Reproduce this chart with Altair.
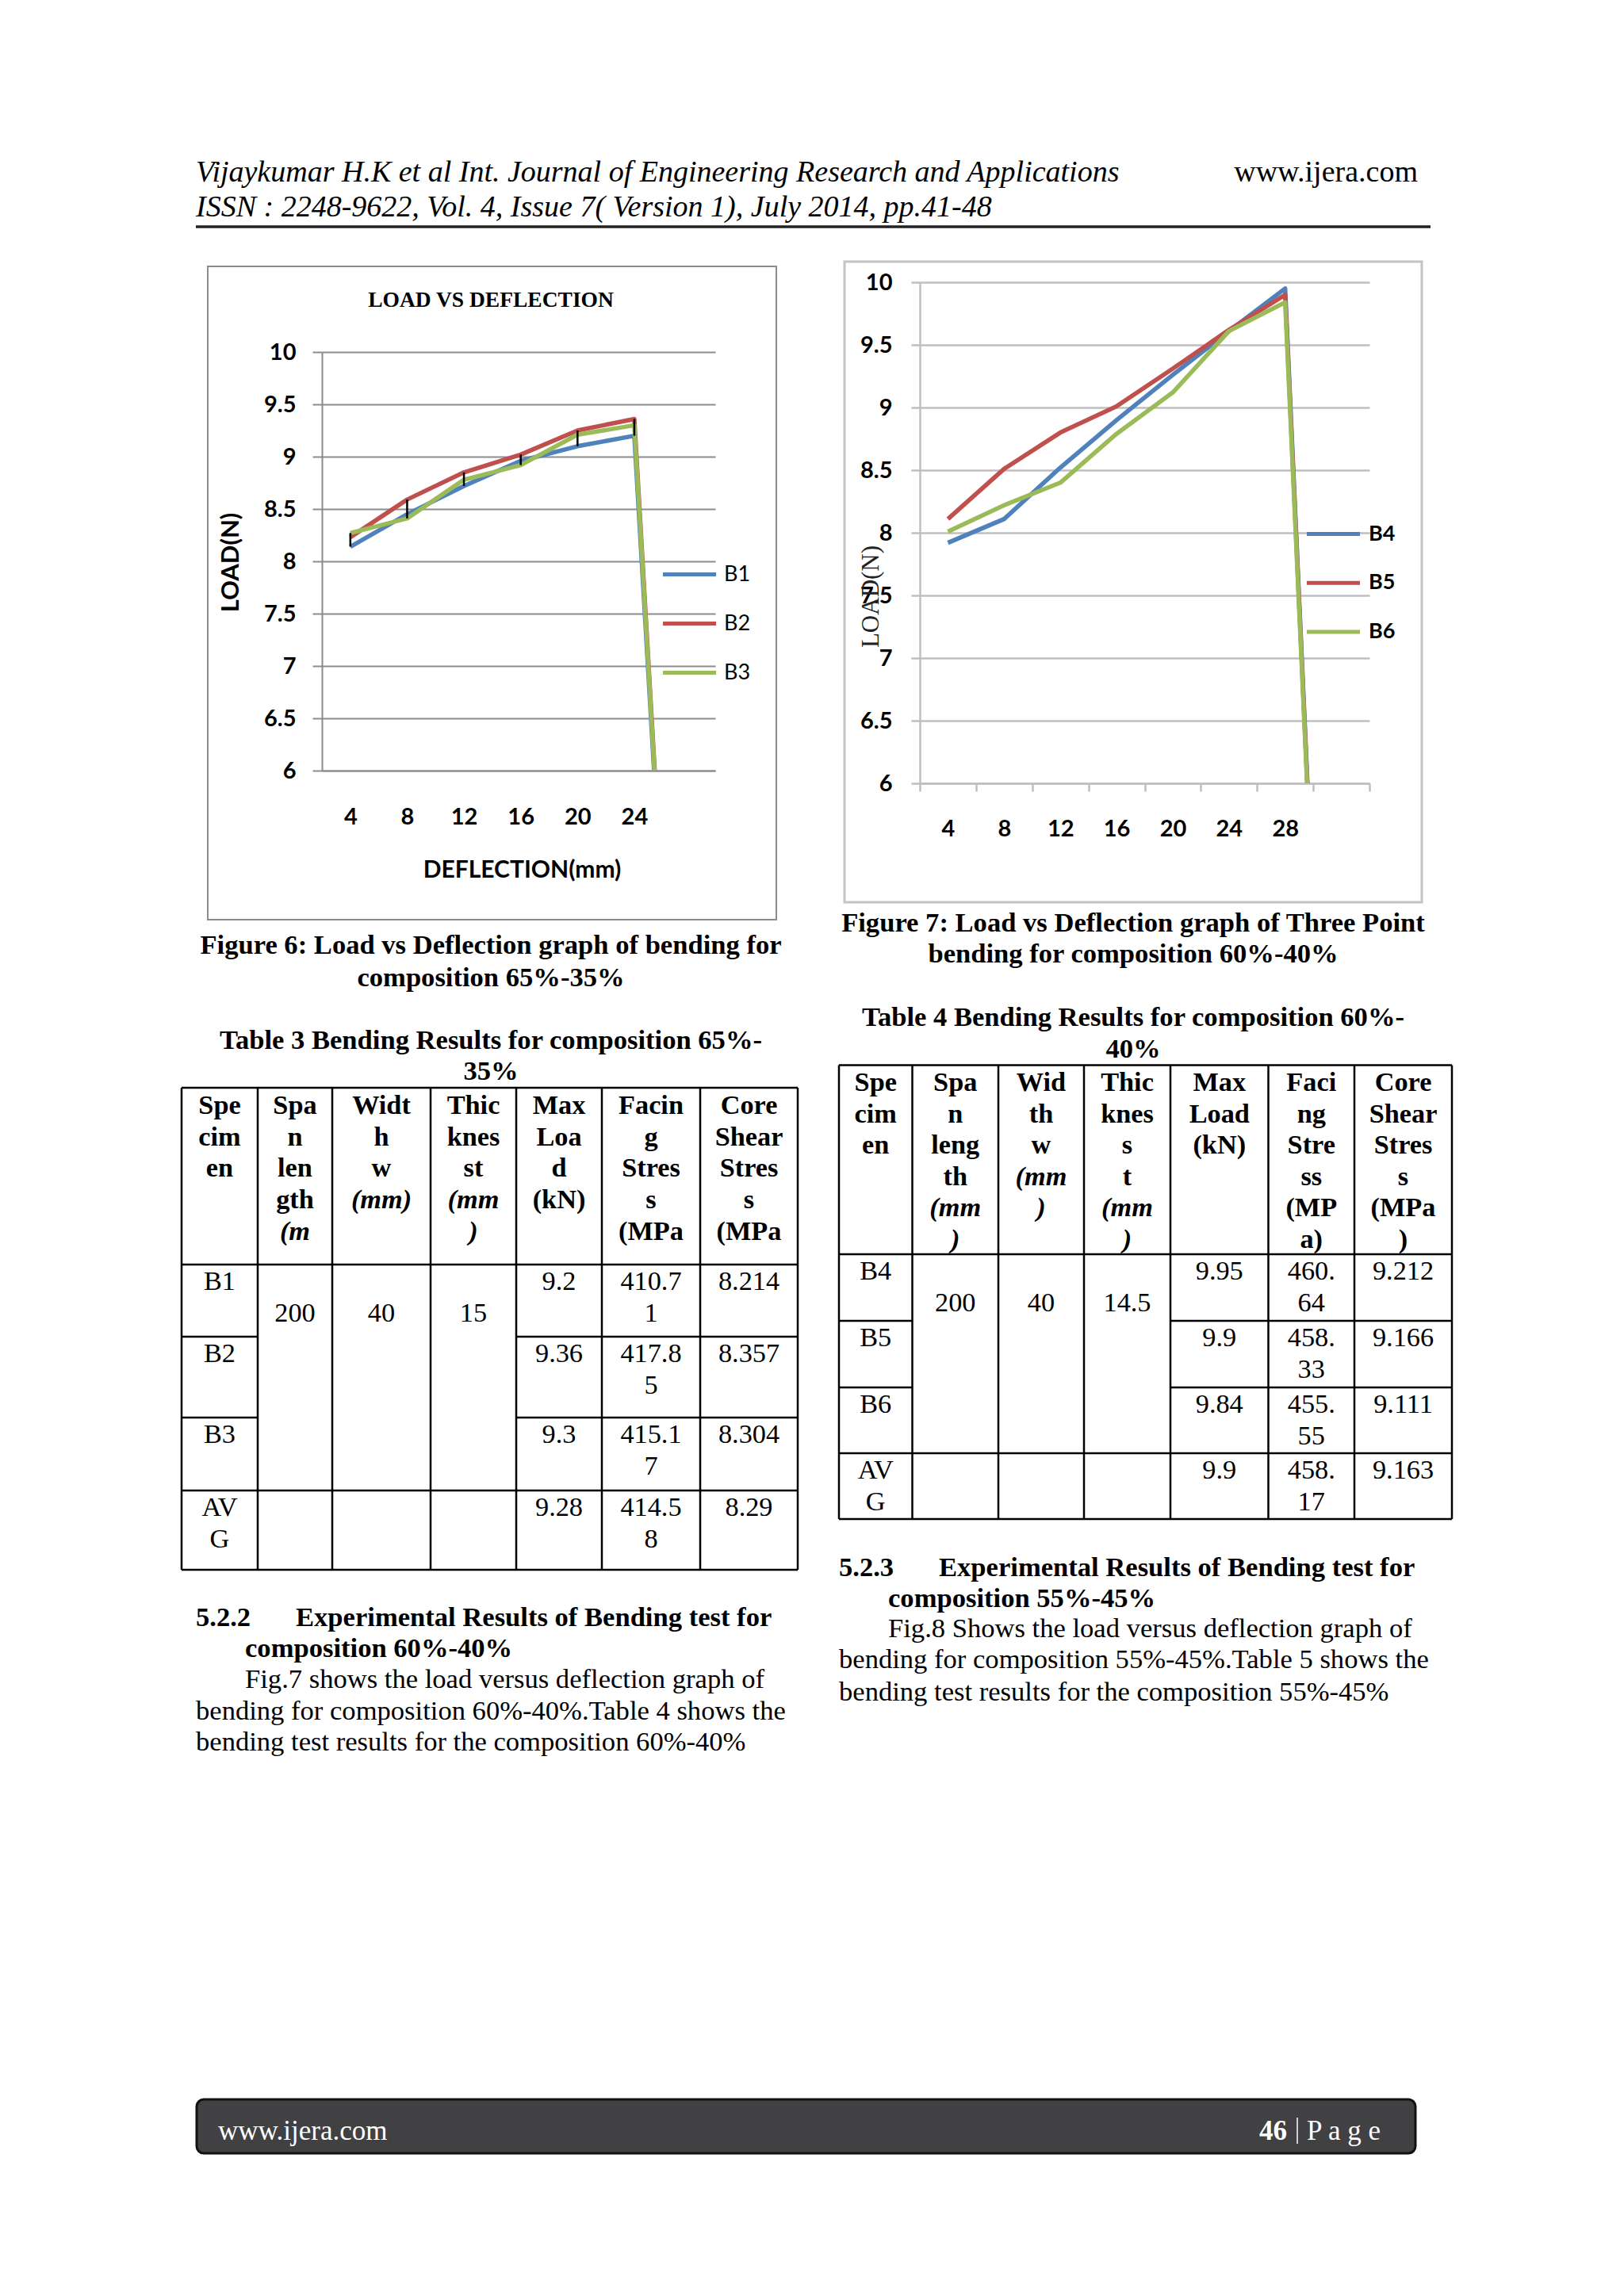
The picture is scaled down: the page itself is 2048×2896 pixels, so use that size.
import altair as alt
import pandas as pd

O = 8  # page margin of the html body

# ---------------- chart data ----------------
deflection_fig6 = [4, 8, 12, 16, 20, 24, 28]
load_b1 = [8.14, 8.45, 8.72, 8.96, 9.10, 9.20, 0]
load_b2 = [8.23, 8.59, 8.85, 9.02, 9.25, 9.36, 0]
load_b3 = [8.27, 8.41, 8.78, 8.92, 9.21, 9.30, 0]
specimens_fig6 = ["B1", "B2", "B3"]

deflection_fig7 = [4, 8, 12, 16, 20, 24, 28, 32]
load_b4 = [7.92, 8.11, 8.52, 8.90, 9.26, 9.61, 9.95, 0]
load_b5 = [8.11, 8.51, 8.80, 9.01, 9.31, 9.62, 9.90, 0]
load_b6 = [8.01, 8.22, 8.40, 8.79, 9.12, 9.61, 9.84, 0]
specimens_fig7 = ["B4", "B5", "B6"]

x_labels_fig6 = [4, 8, 12, 16, 20, 24]
x_ticks_fig7 = list(range(2, 35, 2))
y_ticks = [6, 6.5, 7, 7.5, 8, 8.5, 9, 9.5, 10]
series_colors = ["#4F81BD", "#C0504D", "#9BBB59"]

# ---------------- table data ----------------
t3_header = [["Spe", "cim", "en"], ["Spa", "n", "len", "gth", "*(m"], ["Widt", "h", "w", "*(mm)"],
             ["Thic", "knes", "st", "*(mm", "*)"], ["Max", "Loa", "d", "(kN)"],
             ["Facin", "g", "Stres", "s", "(MPa"], ["Core", "Shear", "Stres", "s", "(MPa"]]
t3_specimen = [["B1"], ["B2"], ["B3"], ["AV", "G"]]
t3_merged = ["200", "40", "15"]
t3_max_load = ["9.2", "9.36", "9.3", "9.28"]
t3_facing = [["410.7", "1"], ["417.8", "5"], ["415.1", "7"], ["414.5", "8"]]
t3_core = ["8.214", "8.357", "8.304", "8.29"]

t4_header = [["Spe", "cim", "en"], ["Spa", "n", "leng", "th", "*(mm", "*)"], ["Wid", "th", "w", "*(mm", "*)"],
             ["Thic", "knes", "s", "t", "*(mm", "*)"], ["Max", "Load", "(kN)"],
             ["Faci", "ng", "Stre", "ss", "(MP", "a)"], ["Core", "Shear", "Stres", "s", "(MPa", ")"]]
t4_specimen = [["B4"], ["B5"], ["B6"], ["AV", "G"]]
t4_merged = ["200", "40", "14.5"]
t4_max_load = ["9.95", "9.9", "9.84", "9.9"]
t4_facing = [["460.", "64"], ["458.", "33"], ["455.", "55"], ["458.", "17"]]
t4_core = ["9.212", "9.166", "9.111", "9.163"]

# ---------------- page text ----------------
header_line1 = "Vijaykumar H.K et al Int. Journal of Engineering Research and Applications"
header_line2 = "ISSN : 2248-9622, Vol. 4, Issue 7( Version 1), July 2014, pp.41-48"
header_site = "www.ijera.com"
fig6_title = "LOAD VS DEFLECTION"
cap6 = ["Figure 6: Load vs Deflection graph of bending for", "composition 65%-35%"]
cap7 = ["Figure 7: Load vs Deflection graph of Three Point", "bending for composition 60%-40%"]
tab3_title = ["Table 3 Bending Results for composition 65%-", "35%"]
tab4_title = ["Table 4 Bending Results for composition 60%-", "40%"]
sec522 = ["5.2.2", "Experimental Results of Bending test for", "composition  60%-40%"]
body522 = ["Fig.7 shows the load versus deflection graph of",
           "bending for composition 60%-40%.Table 4 shows the",
           "bending test results for the composition 60%-40%"]
sec523 = ["5.2.3", "Experimental Results of Bending test for", "composition 55%-45%"]
body523 = ["Fig.8 Shows the load versus deflection graph of",
           "bending for composition 55%-45%.Table 5 shows the",
           "bending test results for the composition 55%-45%"]
footer_site = "www.ijera.com"
footer_page = ["46", "P a g e"]

SERIF = "Liberation Serif"
SANS = "Lato"

# ---------------- page layer helpers ----------------
texts, rules, rects = [], [], []


def T(x, y, s, size=34.6, weight="normal", style="normal", align="left", color="black"):
    texts.append(dict(x=x - O, y=y - O, t=s, size=size, weight=weight, style=style, align=align, color=color))


def R(x, y, x2, y2, w=2.5, color="black"):
    rules.append(dict(x=x - O, y=y - O, x2=x2 - O, y2=y2 - O, w=w, color=color))


def B(x, y, x2, y2, stroke, sw, fill="none", radius=0):
    rects.append(dict(x=x - O, y=y - O, x2=x2 - O, y2=y2 - O, stroke=stroke, sw=sw, fill=fill, radius=radius))


# header
T(247, 218, header_line1, size=38, style="italic")
T(247, 262, header_line2, size=38, style="italic")
T(1788, 218, header_site, size=38, align="right")
R(247, 286, 1804, 286, w=3.5, color="#222222")

# chart frames and figure-6 title
B(262, 336, 979, 1160, "#8C8C8C", 2)
B(1065, 330, 1793, 1138, "#C4C4C4", 3)
T(619, 379, fig6_title, size=27.5, weight="bold", align="center")

# captions
T(619, 1193, cap6[0], weight="bold", align="center")
T(619, 1234, cap6[1], weight="bold", align="center")
T(1429, 1165, cap7[0], weight="bold", align="center")
T(1429, 1204, cap7[1], weight="bold", align="center")
T(619, 1313, tab3_title[0], weight="bold", align="center")
T(619, 1352, tab3_title[1], weight="bold", align="center")
T(1429, 1284, tab4_title[0], weight="bold", align="center")
T(1429, 1324, tab4_title[1], weight="bold", align="center")


def build_table(X, Y, head_y0, head_step, header, specimen, merged, max_load, facing, core):
    for x in X:
        R(x, Y[0], x, Y[-1])
    for y in (Y[0], Y[1], Y[4], Y[5]):
        R(X[0], y, X[-1], y)
    for y in (Y[2], Y[3]):
        R(X[0], y, X[1], y)
        R(X[4], y, X[-1], y)
    cx = [(X[i] + X[i + 1]) / 2 for i in range(7)]
    for i, col in enumerate(header):
        for j, line in enumerate(col):
            ital = line.startswith("*")
            T(cx[i], head_y0 + j * head_step, line.lstrip("*"), size=34.3, weight="bold",
              style="italic" if ital else "normal", align="center")
    for r in range(4):
        y0 = Y[1 + r] + 22
        for ci, lines in ((0, specimen[r]), (4, [max_load[r]]), (5, facing[r]), (6, [core[r]])):
            for j, line in enumerate(lines):
                T(cx[ci], y0 + j * 39.5, line, size=34.3, align="center")
    for ci, val in zip((1, 2, 3), merged):
        T(cx[ci], Y[1] + 22 + 39.5, val, size=34.3, align="center")


build_table([229, 325, 419, 543, 651, 759, 883, 1006], [1372, 1595, 1686, 1788, 1880, 1980],
            1395, 39.7, t3_header, t3_specimen, t3_merged, t3_max_load, t3_facing, t3_core)
build_table([1058, 1150.5, 1259, 1367, 1476, 1599.5, 1708, 1831], [1343.5, 1582, 1666, 1750, 1833, 1916],
            1366.4, 39.5, t4_header, t4_specimen, t4_merged, t4_max_load, t4_facing, t4_core)

# sections
T(247, 2041, sec522[0], weight="bold")
T(373, 2041, sec522[1], weight="bold")
T(309, 2080, sec522[2], weight="bold")
T(309, 2119, body522[0])
T(247, 2159, body522[1])
T(247, 2198, body522[2])
T(1058, 1978, sec523[0], weight="bold")
T(1184, 1978, sec523[1], weight="bold")
T(1120, 2017, sec523[2], weight="bold")
T(1120, 2055, body523[0])
T(1058, 2094, body523[1])
T(1058, 2135, body523[2])

# footer
B(248, 2648, 1785, 2716, "#111111", 3, fill="#414042", radius=9)
T(275, 2688, footer_site, size=35, color="white")
T(1588, 2688, footer_page[0], size=35, weight="bold", color="white")
R(1636, 2671, 1636, 2704, w=1.5, color="white")
T(1648, 2688, footer_page[1], size=35, color="white")

PX = dict(scale=None, axis=None)
page_layers = []
rdf = pd.DataFrame(rects)
for (stroke, sw, fill, radius), g in rdf.groupby(["stroke", "sw", "fill", "radius"], sort=False):
    mk = dict(stroke=stroke, strokeWidth=sw, cornerRadius=radius)
    if fill == "none":
        mk["fillOpacity"] = 0
    else:
        mk["fill"] = fill
    page_layers.append(alt.Chart(g).mark_rect(**mk).encode(
        x=alt.X("x:Q", **PX), x2="x2:Q", y=alt.Y("y:Q", **PX), y2="y2:Q"))
ldf = pd.DataFrame(rules)
for (w, color), g in ldf.groupby(["w", "color"], sort=False):
    page_layers.append(alt.Chart(g).mark_rule(strokeWidth=w, color=color).encode(
        x=alt.X("x:Q", **PX), x2="x2:Q", y=alt.Y("y:Q", **PX), y2="y2:Q"))
tdf = pd.DataFrame(texts)
for (size, weight, style, align, color), g in tdf.groupby(["size", "weight", "style", "align", "color"], sort=False):
    page_layers.append(alt.Chart(g).mark_text(
        font=SERIF, fontSize=size, fontWeight=weight, fontStyle=style, align=align,
        baseline="middle", color=color).encode(
        x=alt.X("x:Q", **PX), y=alt.Y("y:Q", **PX), text="t:N"))

page = alt.layer(*page_layers).properties(width=2032, height=348)


# ---------------- line charts ----------------
def series_df(xs, names, lists):
    rows = []
    for n, vals in zip(names, lists):
        for x, v in zip(xs, vals):
            rows.append({"deflection": x, "load": v, "specimen": n})
    return pd.DataFrame(rows)


GRID1 = "#8C8C8C"
H6 = 616  # view height of figure 6 (its plot occupies the lower 528 px)
df6 = series_df(deflection_fig6, specimens_fig6, [load_b1, load_b2, load_b3])
sx6 = alt.Scale(domain=[2, 29.7], nice=False, zero=False)
sy6 = alt.Scale(domain=[6, 10], range=[H6, H6 - 528], nice=False, zero=False)
ax6 = alt.Axis(values=x_labels_fig6, ticks=False, tickSize=0, grid=False,
               domainColor=GRID1, domainWidth=2, labelFont=SANS, labelFontWeight="bold",
               labelFontSize=29, labelColor="black", labelPadding=58, labelBaseline="middle",
               labelFlush=False, labelOverlap=False,
               title="DEFLECTION(mm)", titleFont=SANS, titleFontWeight="bold", titleFontSize=30,
               titleColor="black", titleX=252, titleY=125, titleAlign="center",
               titleBaseline="middle")
ay6 = alt.Axis(values=y_ticks, format="~g", grid=True, gridColor=GRID1, gridWidth=2,
               tickColor=GRID1, tickWidth=2, tickSize=12, domainColor=GRID1, domainWidth=2,
               labelFont=SANS, labelFontWeight="bold", labelFontSize=29, labelColor="black",
               labelPadding=21, labelOverlap=False, labelFlush=False,
               title="LOAD(N)", titleFont=SANS, titleFontWeight="bold", titleFontSize=31,
               titleColor="black", titleX=-115, titleY=353, titleAngle=270,
               titleAlign="center", titleBaseline="middle")
lines6 = alt.Chart(df6).mark_line(strokeWidth=5.5, clip=True, strokeJoin="round").encode(
    x=alt.X("deflection:Q", scale=sx6, axis=ax6),
    y=alt.Y("load:Q", scale=sy6, axis=ay6),
    color=alt.Color("specimen:N", scale=alt.Scale(domain=specimens_fig6, range=series_colors),
                    legend=alt.Legend(title=None, orient="none", legendX=427, legendY=332,
                                      symbolType="stroke", symbolSize=4500, symbolStrokeWidth=5,
                                      labelFont=SANS, labelFontSize=27, labelColor="black",
                                      labelOffset=7, rowPadding=12, padding=0, direction="vertical")))
hilo6 = alt.Chart(df6).transform_aggregate(
    lo="min(load)", hi="max(load)", groupby=["deflection"]
).transform_filter("datum.hi > 6").mark_rule(color="black", strokeWidth=2.5).encode(
    x=alt.X("deflection:Q", scale=sx6, axis=ax6),
    y=alt.Y("lo:Q", scale=sy6, axis=ay6), y2="hi:Q")
chart6 = alt.layer(lines6, hilo6).properties(width=496, height=H6)

GRID2 = "#BFBFBF"
df7 = series_df(deflection_fig7, specimens_fig7, [load_b4, load_b5, load_b6])
x7 = alt.X("deflection:Q", scale=alt.Scale(domain=[2, 34], nice=False, zero=False),
           axis=alt.Axis(values=x_ticks_fig7, grid=False, tickSize=10, tickWidth=2.5,
                         tickColor={"condition": {"test": "datum.value % 4 === 0", "value": "transparent"},
                                    "value": GRID2},
                         labelExpr="datum.value % 4 === 0 && datum.value <= 28 ? datum.label : ''",
                         domainColor=GRID2, domainWidth=2.5, labelFont=SANS, labelFontWeight="bold",
                         labelFontSize=29, labelColor="black", labelPadding=47, labelBaseline="middle",
                         labelFlush=False, labelOverlap=False, title=None))
y7 = alt.Y("load:Q", scale=alt.Scale(domain=[6, 10], nice=False, zero=False),
           axis=alt.Axis(values=y_ticks, format="~g", grid=True, gridColor=GRID2, gridWidth=2.5,
                         tickColor=GRID2, tickWidth=2.5, tickSize=11, domainColor=GRID2, domainWidth=2.5,
                         labelFont=SANS, labelFontWeight="bold", labelFontSize=29, labelColor="black",
                         labelPadding=24, labelOverlap=False, labelFlush=False,
                         title="LOAD(N)", titleFont=SERIF, titleFontWeight="normal", titleFontSize=31,
                         titleColor="#222222", titleX=-62, titleY=396, titleAngle=270,
                         titleAlign="center", titleBaseline="middle"))
chart7 = alt.Chart(df7).mark_line(strokeWidth=5.5, clip=True, strokeJoin="round").encode(
    x=x7, y=y7,
    color=alt.Color("specimen:N", scale=alt.Scale(domain=specimens_fig7, range=series_colors),
                    legend=alt.Legend(title=None, orient="none", legendX=485, legendY=281,
                                      symbolType="stroke", symbolSize=4500, symbolStrokeWidth=5,
                                      labelFont=SANS, labelFontSize=27, labelFontWeight="bold",
                                      labelColor="black", labelOffset=8, rowPadding=11.8, padding=0,
                                      direction="vertical"))
).properties(width=567, height=632)


def spacer(w, h):
    return alt.Chart(pd.DataFrame({"v": [0]})).mark_point(opacity=0).properties(width=w, height=h)


row_b = alt.hconcat(spacer(398, 1), chart6, spacer(258, 1), chart7,
                    spacing=0, bounds="flush").resolve_scale(color="independent")

chart = alt.vconcat(page, row_b, spacing=0, bounds="flush").properties(padding=0).configure_view(
    stroke=None)

chart.save("out.html", embed_options={"renderer": "svg", "actions": False})
